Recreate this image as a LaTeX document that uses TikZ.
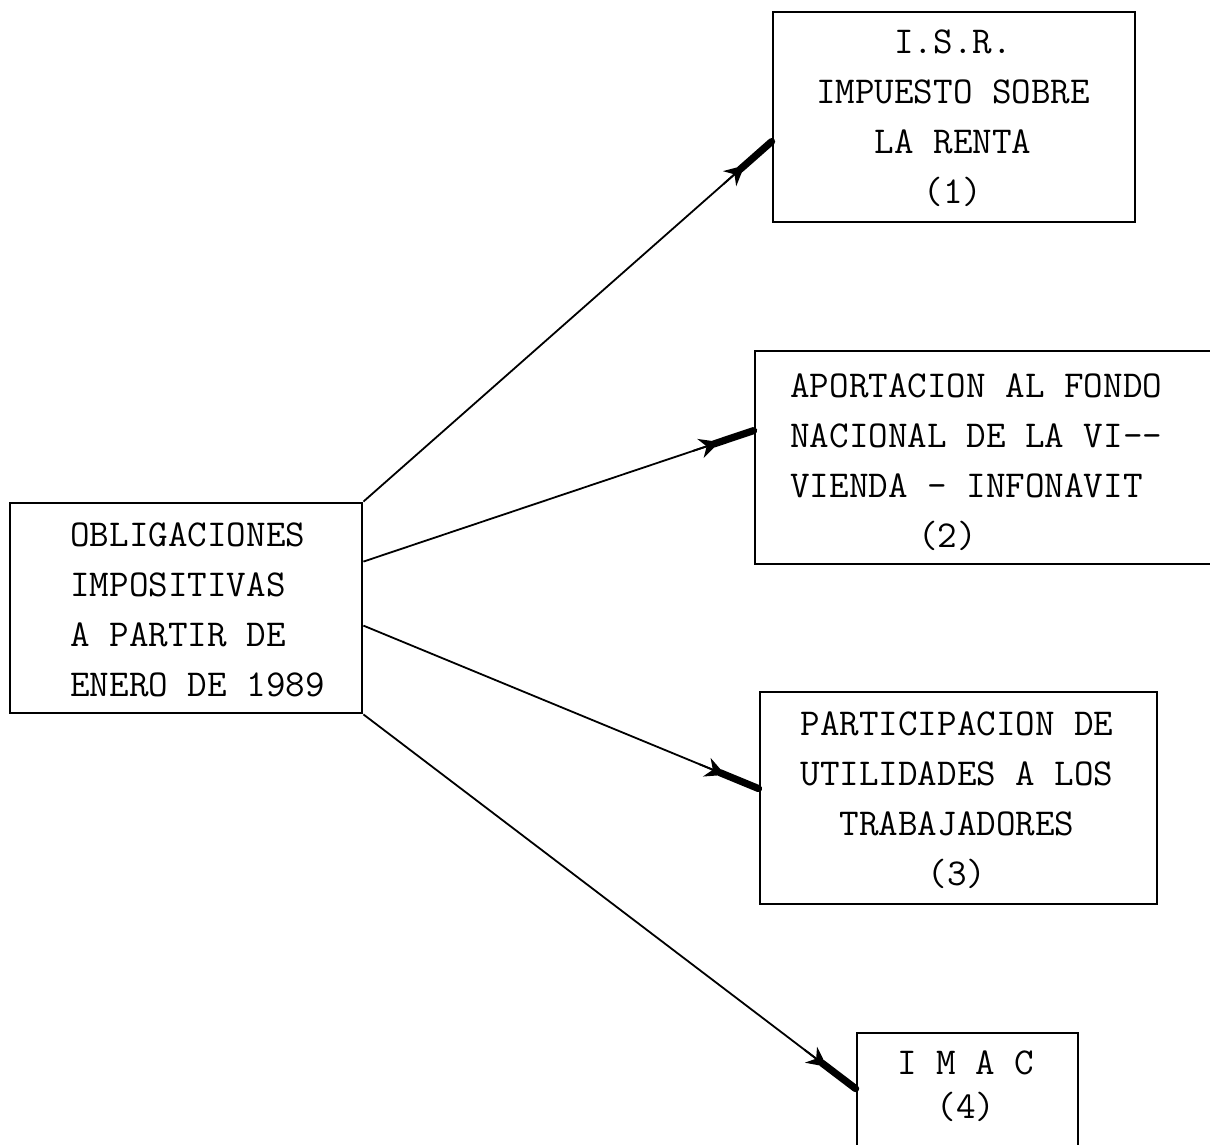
\documentclass[tikz,border=0pt]{standalone}
\usetikzlibrary{calc,arrows.meta}
\begin{document}
\begin{tikzpicture}[x=0.5pt,y=-0.5pt,
  box/.style={draw, line width=1.4pt, inner sep=0pt},
  txt/.style={font=\ttfamily\fontsize{19}{25}\selectfont, inner sep=0pt, align=center},
  conn/.style={line width=0.9pt},
  thickend/.style={line width=3.6pt, line cap=round},
  head/.style={-{Stealth[length=10pt,width=10pt]}, line width=0.9pt}]
\useasboundingbox (0,0) rectangle (1210,1145);
\clip (0,0) rectangle (1210,1145);
% boxes
\node[box, minimum width=176pt, minimum height=105pt] (lb) at (186,608) {};
\node[box, minimum width=181pt, minimum height=105pt] (b1) at (954,117) {};
\node[box, minimum width=300pt, minimum height=106.5pt] (b2) at (1055,457.5) {};
\node[box, minimum width=198.5pt, minimum height=106pt] (b3) at (958.5,798) {};
\node[box, minimum width=110.5pt, minimum height=90pt] (b4) at (967.5,1123) {};
% texts
\node[txt, align=left, anchor=west] (tl) at (70,610) {OBLIGACIONES\\IMPOSITIVAS\\A PARTIR DE\\ENERO DE 1989};
\node[txt] (t1) at (953,118) {I.S.R.\\IMPUESTO SOBRE\\LA RENTA\\(1)};
\node[txt, align=left, anchor=west] (t2) at (790,462) {APORTACION AL FONDO\\NACIONAL DE LA VI--\\VIENDA - INFONAVIT\\\hspace*{64pt}(2)};
\node[txt] (t3) at (957,800) {PARTICIPACION DE\\UTILIDADES A LOS\\TRABAJADORES\\(3)};
\node[txt, font=\ttfamily\fontsize{19}{22}\selectfont] (t4) at (966,1086) {I M A C\\(4)};
% connector end points
\coordinate (s1) at (lb.north east);
\coordinate (s2) at ($(lb.north east)+(0,60)$);
\coordinate (s3) at ($(lb.north east)+(0,124)$);
\coordinate (s4) at (lb.south east);
\coordinate (e1) at ($(b1.north west)+(0,131)$);
\coordinate (e2) at ($(b2.north west)+(0,81)$);
\coordinate (e3) at ($(b3.north west)+(0,98)$);
\coordinate (e4) at ($(b4.north west)+(0,57)$);
% connectors
\foreach \i in {1,2,3,4}{
  \draw[conn] (s\i) -- (e\i);
  \draw[thickend] ($(e\i)!21pt!(s\i)$) -- (e\i);
  \draw[head] ($(e\i)!32pt!(s\i)$) -- ($(e\i)!18pt!(s\i)$);
}
\end{tikzpicture}
\end{document}
